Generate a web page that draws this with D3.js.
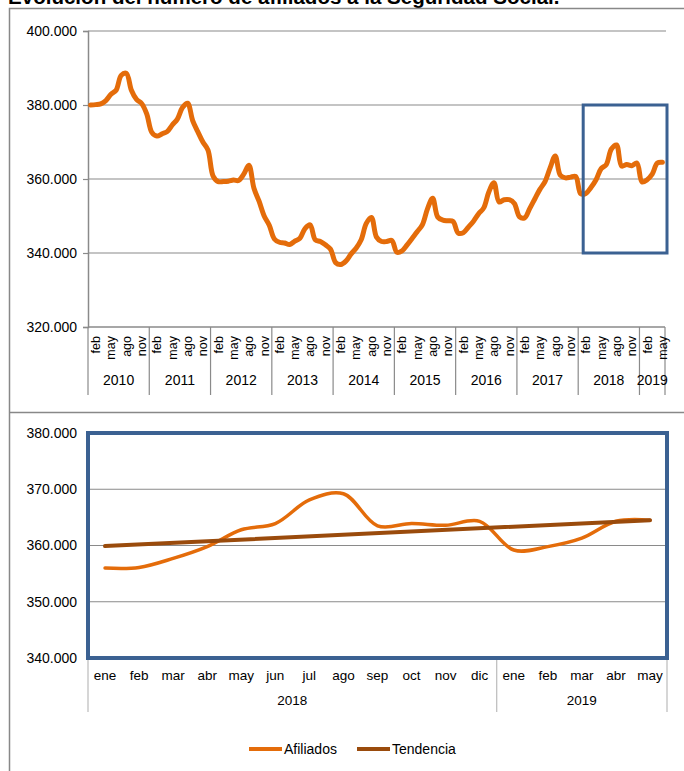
<!DOCTYPE html>
<html>
<head>
<meta charset="utf-8">
<script src="https://cdn.jsdelivr.net/npm/d3@7"></script>
<style>
  body { margin: 0; background: #fff; }
  text { font-family: "Liberation Sans", Arial, sans-serif; fill: #000; }
</style>
</head>
<body>
<div id="chart"></div>
<script>
// afiliados, monthly, thousands of people (ene 2010 - dic 2017)
const afiliados2010_2017 = [
  380.0, 380.1, 380.3, 381.2, 382.9, 384.0, 388.0, 388.6, 384.0, 381.5, 380.4, 377.6,
  372.6, 371.6, 372.2, 372.8, 374.6, 376.2, 379.3, 380.5, 375.8, 372.8, 370.0, 367.8,
  360.8, 359.3, 359.3, 359.4, 359.7, 359.6, 361.3, 363.7, 357.5, 354.0, 350.0, 347.5,
  343.8, 342.9, 342.7, 342.3, 343.2, 344.0, 346.6, 347.6, 343.6, 343.1, 342.2, 341.0,
  337.4, 336.9, 337.8, 339.7, 341.3, 343.6, 348.0, 349.6, 344.3, 343.1, 343.1, 343.4,
  340.2, 340.6, 342.2, 344.0, 345.8, 347.7, 352.0, 354.8, 349.7, 348.9, 348.7, 348.5,
  345.4, 345.5, 347.0, 348.6, 350.6, 352.2, 356.5, 359.0, 353.8, 354.4, 354.4, 353.4,
  349.8, 349.5, 352.0, 354.6, 357.2, 359.3, 363.0, 366.2, 361.0, 360.3, 360.5, 360.7
];
// ene 2018 - may 2019 (the zoomed part)
const afiliados2018_2019 = [
  356.0, 356.1, 357.7, 359.8, 362.8, 363.9, 368.1, 369.2, 363.5, 363.9, 363.6, 364.3,
  359.2, 359.8, 361.3, 364.3, 364.5
];
// trend line, value at first and last month of the zoom
const tendencia = [359.9, 364.5];

const years = [2010, 2011, 2012, 2013, 2014, 2015, 2016, 2017, 2018, 2019];
const monthNames = ["ene", "feb", "mar", "abr", "may", "jun", "jul", "ago", "sep", "oct", "nov", "dic"];
const topMonthLabels = ["feb", "may", "ago", "nov"];
const yTicksTop = [320, 340, 360, 380, 400];
const yTicksBottom = [340, 350, 360, 370, 380];
const zoomYears = [2018, 2019];
const titleText = "Evolución del número de afiliados a la Seguridad Social.";

const orange = "#e46c0a";
const brown = "#9a4b0c";
const blue = "#3b6192";
const grid = "#8a8a8a";

const width = 684, height = 771;
const afiliados = afiliados2010_2017.concat(afiliados2018_2019);
const months = afiliados.map((d, i) => i);
const fmt = d3.formatLocale({ decimal: ",", thousands: ".", grouping: [3], currency: ["", "€"] }).format(",.0f");
const yLabel = d => fmt(d * 1000);

const svg = d3.select("#chart").append("svg")
  .attr("width", width)
  .attr("height", height);

// title (cut at the top like the source)
const title = svg.append("text")
  .attr("x", 8)
  .attr("y", 4)
  .attr("font-weight", "bold")
  .attr("font-size", 17)
  .text(titleText);
let tl = title.node().getComputedTextLength();
title.attr("font-size", 17 * 552 / tl);

// frame
svg.append("path")
  .attr("d", "M684,8.5 H9.5 V771 M9.5,412.5 H684")
  .attr("fill", "none")
  .attr("stroke", "#888")
  .attr("stroke-width", 1.5);

// ---------- top chart ----------
const xTop = d3.scaleBand().domain(months).range([88, 665]);
const yTop = d3.scaleLinear().domain([320, 400]).range([327, 31]);
const cx = i => xTop(i) + xTop.bandwidth() / 2;

svg.append("g")
  .selectAll("line")
  .data(yTicksTop.filter(d => d > 320))
  .join("line")
  .attr("x1", 88).attr("x2", 666)
  .attr("y1", d => yTop(d)).attr("y2", d => yTop(d))
  .attr("stroke", grid)
  .attr("stroke-width", 1.2);

const yAxisTop = d3.axisLeft(yTop).tickValues(yTicksTop).tickSize(5).tickPadding(6).tickFormat(yLabel);
const gyt = svg.append("g")
  .attr("transform", "translate(88,0)")
  .call(yAxisTop);
gyt.select(".domain").attr("stroke", grid).attr("stroke-width", 1.5);
gyt.selectAll(".tick line").attr("stroke", grid).attr("stroke-width", 1.2);
gyt.selectAll(".tick text").attr("font-size", 14).attr("font-family", "Liberation Sans, Arial, sans-serif");

// x axis line
svg.append("line")
  .attr("x1", 88).attr("x2", 665)
  .attr("y1", 327).attr("y2", 327)
  .attr("stroke", grid)
  .attr("stroke-width", 1.5);

// year separators
const yearStarts = years.map((y, k) => k * 12);
svg.append("g")
  .selectAll("line")
  .data(yearStarts.map(i => xTop(i)).concat([665]))
  .join("line")
  .attr("x1", d => d).attr("x2", d => d)
  .attr("y1", 327).attr("y2", 395)
  .attr("stroke", grid)
  .attr("stroke-width", 1.2);

// month labels (rotated)
const labelled = months.filter(i => topMonthLabels.includes(monthNames[i % 12]));
svg.append("g")
  .selectAll("text")
  .data(labelled)
  .join("text")
  .attr("transform", i => `translate(${cx(i)},336) rotate(-90)`)
  .attr("dy", "0.35em")
  .attr("text-anchor", "end")
  .attr("font-size", 12.5)
  .text(i => monthNames[i % 12]);

// year labels
svg.append("g")
  .selectAll("text")
  .data(years)
  .join("text")
  .attr("x", (y, k) => {
    const a = xTop(k * 12);
    const last = Math.min(k * 12 + 11, months.length - 1);
    return (a + xTop(last) + xTop.bandwidth()) / 2;
  })
  .attr("y", 385)
  .attr("text-anchor", "middle")
  .attr("font-size", 14)
  .text(d => d);

// line
const lineTop = d3.line()
  .x((d, i) => cx(i))
  .y(d => yTop(d))
  .curve(d3.curveCatmullRom.alpha(0.5));

svg.append("path")
  .datum(afiliados)
  .attr("d", lineTop)
  .attr("fill", "none")
  .attr("stroke", orange)
  .attr("stroke-width", 5)
  .attr("stroke-linejoin", "round")
  .attr("stroke-linecap", "round");

// blue box around the zoomed part
const z0 = afiliados2010_2017.length;
svg.append("rect")
  .attr("x", xTop(z0) + 5)
  .attr("y", yTop(380))
  .attr("width", 667 - xTop(z0) - 5)
  .attr("height", yTop(340) - yTop(380))
  .attr("fill", "none")
  .attr("stroke", blue)
  .attr("stroke-width", 3);

// ---------- bottom chart ----------
const zMonths = afiliados2018_2019.map((d, i) => i);
const xBot = d3.scaleBand().domain(zMonths).range([88, 667]);
const yBot = d3.scaleLinear().domain([340, 380]).range([658, 433]);
const bx = i => xBot(i) + xBot.bandwidth() / 2;

svg.append("g")
  .selectAll("line")
  .data(yTicksBottom.filter(d => d > 340 && d < 380))
  .join("line")
  .attr("x1", 88).attr("x2", 667)
  .attr("y1", d => yBot(d)).attr("y2", d => yBot(d))
  .attr("stroke", grid)
  .attr("stroke-width", 1.2);

const yAxisBot = d3.axisLeft(yBot).tickValues(yTicksBottom).tickSize(0).tickPadding(11).tickFormat(yLabel);
const gyb = svg.append("g")
  .attr("transform", "translate(88,0)")
  .call(yAxisBot);
gyb.select(".domain").remove();
gyb.selectAll(".tick text").attr("font-size", 14).attr("font-family", "Liberation Sans, Arial, sans-serif");

// separators under the axis
const sepIdx = [0, 12];
svg.append("g")
  .selectAll("line")
  .data(sepIdx.map(i => xBot(i)).concat([667]))
  .join("line")
  .attr("x1", d => d).attr("x2", d => d)
  .attr("y1", 658).attr("y2", 712)
  .attr("stroke", "#bbb")
  .attr("stroke-width", 1.2);

svg.append("g")
  .selectAll("text")
  .data(zMonths)
  .join("text")
  .attr("x", i => bx(i))
  .attr("y", 680)
  .attr("text-anchor", "middle")
  .attr("font-size", 13.5)
  .text(i => monthNames[i % 12]);

svg.append("g")
  .selectAll("text")
  .data(zoomYears)
  .join("text")
  .attr("x", (y, k) => {
    const a = xBot(k * 12);
    const b = k === 0 ? xBot(12) : 667;
    return (a + b) / 2;
  })
  .attr("y", 705)
  .attr("text-anchor", "middle")
  .attr("font-size", 13.5)
  .text(d => d);

const lineBot = d3.line()
  .x((d, i) => bx(i))
  .y(d => yBot(d))
  .curve(d3.curveCatmullRom.alpha(0.5));

svg.append("path")
  .datum(afiliados2018_2019)
  .attr("d", lineBot)
  .attr("fill", "none")
  .attr("stroke", orange)
  .attr("stroke-width", 3.5)
  .attr("stroke-linecap", "round");

svg.append("path")
  .datum(tendencia)
  .attr("d", d3.line()
    .x((d, i) => bx(i === 0 ? 0 : zMonths.length - 1))
    .y(d => yBot(d)))
  .attr("fill", "none")
  .attr("stroke", brown)
  .attr("stroke-width", 4)
  .attr("stroke-linecap", "round");

// blue frame round the plot area
svg.append("rect")
  .attr("x", 88)
  .attr("y", 433)
  .attr("width", 667 - 88)
  .attr("height", 658 - 433)
  .attr("fill", "none")
  .attr("stroke", blue)
  .attr("stroke-width", 4);

// legend
const legend = [
  { name: "Afiliados", color: orange, x: 249 },
  { name: "Tendencia", color: brown, x: 357 }
];
const lg = svg.append("g").selectAll("g").data(legend).join("g")
  .attr("transform", d => `translate(${d.x},749)`);
lg.append("line")
  .attr("x1", 0).attr("x2", 33)
  .attr("stroke", d => d.color)
  .attr("stroke-width", 4);
lg.append("text")
  .attr("x", 35)
  .attr("dy", "0.35em")
  .attr("font-size", 14)
  .text(d => d.name);
</script>
</body>
</html>
